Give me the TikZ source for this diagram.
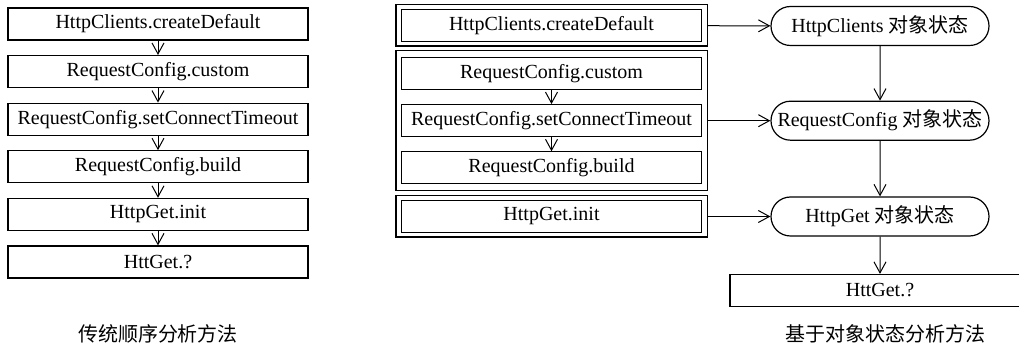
\documentclass[tikz,border=0pt]{standalone}
\usepackage{fontspec}
\setmainfont{Liberation Serif}
\newfontfamily\cjk{Noto Sans CJK SC}
\usetikzlibrary{arrows.meta, positioning, fit, shapes.misc}

\tikzset{
  callbox/.style={draw, line width=0.6pt, minimum width=150pt, minimum height=16pt, inner sep=0pt},
  groupbox/.style={draw, line width=0.6pt, inner xsep=2.5pt, inner ysep=2pt},
  statebox/.style={draw, rounded rectangle, line width=0.6pt, minimum width=109pt, minimum height=19.5pt, inner sep=0pt},
  flow/.style={line width=0.5pt, -{Straight Barb[length=5.5pt,width=6pt]}},
}

\begin{document}
\begin{tikzpicture}[x=0.5pt, y=-0.5pt]
  \useasboundingbox (0,0) rectangle (1019,347);

  % sequential call chain
  \node[callbox] (l1) at (158,24) {HttpClients.createDefault};
  \node[callbox, below=7.2pt of l1] (l2) {RequestConfig.custom};
  \node[callbox, below=7.2pt of l2] (l3) {RequestConfig.setConnectTimeout};
  \node[callbox, below=7.2pt of l3] (l4) {RequestConfig.build};
  \node[callbox, below=7.2pt of l4] (l5) {HttpGet.init};
  \node[callbox, below=7.2pt of l5] (l6) {HttGet.?};
  \foreach \a/\b in {l1/l2, l2/l3, l3/l4, l4/l5, l5/l6}
    \draw[flow] (\a) -- (\b);
  \node (lcap) at (158,334) {\cjk 传统顺序分析方法};

  % calls grouped by object
  \node[callbox] (r1) at (551.5,25.5) {HttpClients.createDefault};
  \node[callbox] (r2) at (551.5,73.5) {RequestConfig.custom};
  \node[callbox, below=7pt of r2] (r3) {RequestConfig.setConnectTimeout};
  \node[callbox, below=7pt of r3] (r4) {RequestConfig.build};
  \node[callbox] (r5) at (551.5,216.5) {HttpGet.init};
  \draw[flow] (r2) -- (r3);
  \draw[flow] (r3) -- (r4);
  \node[groupbox, fit=(r1)] (g1) {};
  \node[groupbox, inner ysep=3pt, fit=(r2)(r4)] (g2) {};
  \node[groupbox, fit=(r5)] (g3) {};

  % object states
  \node[statebox] (s1) at (880,26) {HttpClients {\cjk 对象状态}};
  \node[statebox] (s2) at (s1 |- r3) {RequestConfig {\cjk 对象状态}};
  \node[statebox] (s3) at (s1 |- r5) {HttpGet {\cjk 对象状态}};
  \node[callbox] (next) at (880,290.5) {HttGet.?};
  \draw[flow] (g1) -- (s1);
  \draw[flow] (g2.east |- r3) -- (s2);
  \draw[flow] (g3) -- (s3);
  \draw[flow] (s1) -- (s2);
  \draw[flow] (s2) -- (s3);
  \draw[flow] (s3) -- (next);
  \node (rcap) at (885,334) {\cjk 基于对象状态分析方法};
\end{tikzpicture}
\end{document}
